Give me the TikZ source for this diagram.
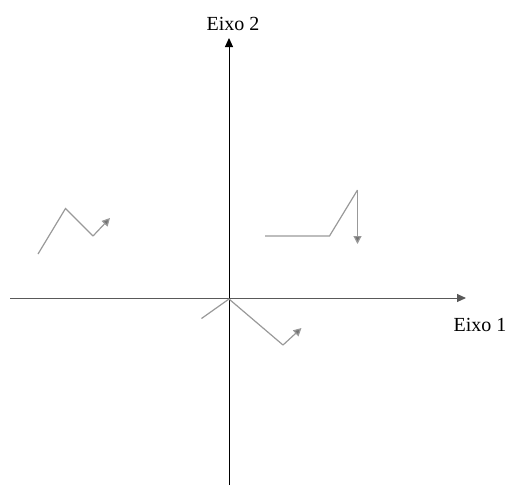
\documentclass[tikz,border=0pt]{standalone}
\usepackage{fontspec}
\setmainfont{Liberation Serif}
\usetikzlibrary{arrows.meta}
\begin{document}
\begin{tikzpicture}[x=1pt,y=-1pt,
  axisline/.style={line width=1pt,-{Triangle[length=9pt,width=8pt]}},
  gpath/.style={draw=black!40,line width=1.2pt},
  gtip/.style={-{Triangle[length=8pt,width=8pt,fill=black!55]},draw=black!40,line width=1.2pt},
  lbl/.style={font=\fontsize{20}{23}\selectfont,inner sep=0pt,anchor=base}]
\useasboundingbox (0,0) rectangle (510,485);
% axes
\coordinate (h0) at (10,298);
\coordinate (h1) at (466,298);
\coordinate (v0) at (229,485);
\coordinate (v1) at (229,38);
\draw[axisline,draw=black!65] (h0) -- (h1);
\draw[axisline] (v0) -- (v1);
\node[lbl] (e2) at (233,30) {Eixo 2};
\node[lbl] (e1) at (480,331) {Eixo 1};
% left path
\coordinate (a0) at (38,254);
\coordinate (a1) at (65.5,208.5);
\coordinate (a2) at (93,236);
\coordinate (a3) at (110,218);
\draw[gpath] (a0) -- (a1) -- (a2);
\draw[gtip] (a2) -- (a3);
% right path
\coordinate (b0) at (265,236);
\coordinate (b1) at (329.5,236);
\coordinate (b2) at (357.5,190);
\coordinate (b3) at (357.5,244);
\draw[gpath] (b0) -- (b1) -- (b2);
\draw[gtip] (b2) -- (b3);
% bottom path
\coordinate (c0) at (201.5,318.5);
\coordinate (c1) at (229,299);
\coordinate (c2) at (283,345);
\coordinate (c3) at (301.5,328);
\draw[gpath] (c0) -- (c1) -- (c2);
\draw[gtip] (c2) -- (c3);
\end{tikzpicture}
\end{document}
